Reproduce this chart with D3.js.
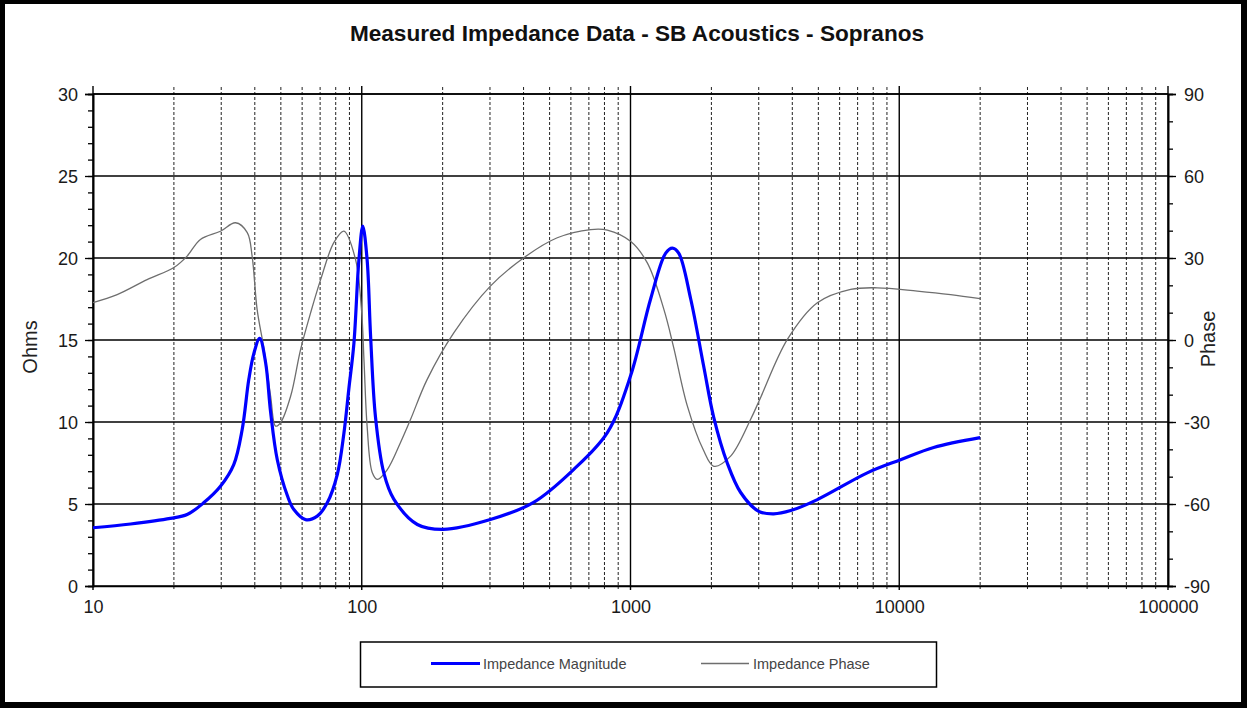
<!DOCTYPE html>
<html><head><meta charset="utf-8">
<script src="https://cdn.jsdelivr.net/npm/d3@7"></script>
<style>
body{margin:0;background:#fff}
svg{display:block}
text{font-family:"Liberation Sans",Arial,Helvetica,sans-serif}
</style>
</head><body>
<svg id="c" width="1247" height="708"></svg>
<script>
const chartTitle = "Measured Impedance Data - SB Acoustics - Sopranos";
const seriesNames = ["Impedance Magnitude", "Impedance Phase"];
const leftTitle = "Ohms";
const rightTitle = "Phase";

const magFreq = [10, 13.8, 19.4, 22.4, 25.8, 29.8, 33.4, 35.9, 38.0, 39.7, 41.7, 43.9, 45.8, 48.5, 52.9, 55.9, 61.8, 68.3, 74.4, 81.1, 85.8, 89.5, 93.5, 97.6, 100.9, 104.7, 107.9, 112.5, 120.8, 131.6, 161, 201, 301, 436, 614, 820, 1000, 1188, 1352, 1432, 1511, 1675, 1872, 2039, 2291, 2570, 3000, 3412, 3947, 4958, 7604, 10116, 13430, 20000];
const magOhms = [3.55, 3.78, 4.12, 4.36, 5.07, 6.08, 7.4, 9.54, 12.6, 14.2, 15.1, 13.6, 10.6, 7.7, 5.5, 4.66, 4.05, 4.26, 5.07, 6.8, 9.3, 12.0, 14.8, 19.9, 21.95, 19.9, 15.2, 10.3, 6.9, 5.3, 3.75, 3.45, 4.05, 5.1, 7.1, 9.35, 12.8, 17.5, 20.3, 20.6, 20.3, 17.5, 13.4, 10.3, 7.5, 5.7, 4.55, 4.4, 4.6, 5.27, 6.9, 7.7, 8.45, 9.05];

const phaseFreq = [10, 12.3, 15.9, 20.0, 22.4, 25.1, 29.8, 33.9, 37.5, 39.1, 40.8, 43.3, 45.8, 47.8, 49.9, 54.4, 59.2, 64.5, 70.3, 78.8, 85.8, 94.8, 99.8, 102, 104.7, 109.4, 114.2, 124.5, 139.4, 152, 175, 220, 301, 401, 534, 711, 820, 1000, 1155, 1331, 1445, 1626, 1862, 2043, 2358, 2800, 3050, 3835, 4958, 6596, 8285, 11670, 15530, 20000];
const phaseDeg = [13.7, 16.6, 22.1, 26.5, 30.7, 36.8, 39.8, 42.9, 39.3, 30.6, 11.2, -3.5, -20.5, -31.5, -30.2, -20.5, -3.5, 9.9, 22.1, 35.7, 39.8, 29.5, 11, -8, -31.5, -48.5, -51, -47.4, -37.5, -29, -14.5, 2.6, 19.7, 30.1, 37.4, 40.4, 40.2, 36.1, 28.2, 11.2, -2.4, -24, -40, -46.2, -42.5, -29, -21, 0.2, 13.6, 18.5, 19.1, 17.9, 16.6, 15.1];

const ohmTicks = [0, 5, 10, 15, 20, 25, 30];
const phaseTicks = [-90, -60, -30, 0, 30, 60, 90];
const freqTicks = [10, 100, 1000, 10000, 100000];

const svg = d3.select("#c");
const W = 1247, H = 708;
const L = 93, R = 1168, T = 94, B = 586;

const x = d3.scaleLog().domain([10, 100000]).range([L, R]);
const y = d3.scaleLinear().domain([0, 30]).range([B, T]);
const yP = d3.scaleLinear().domain([-90, 90]).range([B, T]);
const fmt = d => String(d);

svg.append("rect").attr("x",0).attr("y",0).attr("width",W).attr("height",H).attr("fill","#fff");

const minorFreq = [];
[10,100,1000,10000].forEach(d => { for (let k = 2; k <= 9; k++) minorFreq.push(d*k); });

const g = svg.append("g");
g.selectAll(".vminor").data(minorFreq).enter().append("line")
  .attr("x1", d => x(d)).attr("x2", d => x(d))
  .attr("y1", T - 7).attr("y2", B + 3)
  .attr("stroke", "#222").attr("stroke-width", 1).attr("stroke-dasharray", "3,2");
g.selectAll(".vmajor").data(freqTicks).enter().append("line")
  .attr("x1", d => x(d)).attr("x2", d => x(d))
  .attr("y1", T - 8).attr("y2", B + 4)
  .attr("stroke", "#000").attr("stroke-width", 1.4);
g.selectAll(".hgrid").data(ohmTicks).enter().append("line")
  .attr("x1", L).attr("x2", R)
  .attr("y1", d => y(d)).attr("y2", d => y(d))
  .attr("stroke", "#000").attr("stroke-width", 1.4);

const leftMajor = d3.axisLeft(y).tickValues(ohmTicks).tickSize(8).tickPadding(7).tickFormat(fmt);
const leftMinor = d3.axisLeft(y).tickValues(d3.range(0, 31, 1)).tickSize(5).tickFormat("");
const gl2 = svg.append("g").attr("transform", `translate(${L},0)`).call(leftMinor);
const gl = svg.append("g").attr("transform", `translate(${L},0)`).call(leftMajor);
[gl, gl2].forEach(a => { a.select(".domain").attr("stroke","#000").attr("stroke-width",1.6); a.selectAll("line").attr("stroke","#000").attr("stroke-width",1.3); });
gl.selectAll("text").attr("font-size", 18).attr("fill", "#1a1a1a").attr("dy","0.35em");

const rightMajor = d3.axisRight(yP).tickValues(phaseTicks).tickSize(8).tickPadding(8).tickFormat(fmt);
const rightMinor = d3.axisRight(yP).tickValues(d3.range(-90, 91, 10)).tickSize(5).tickFormat("");
const gr2 = svg.append("g").attr("transform", `translate(${R},0)`).call(rightMinor);
const gr = svg.append("g").attr("transform", `translate(${R},0)`).call(rightMajor);
[gr, gr2].forEach(a => { a.select(".domain").attr("stroke","#000").attr("stroke-width",1.6); a.selectAll("line").attr("stroke","#000").attr("stroke-width",1.3); });
gr.selectAll("text").attr("font-size", 18).attr("fill", "#1a1a1a").attr("dy","0.35em");

const bottom = d3.axisBottom(x).tickValues(freqTicks).tickSize(0).tickPadding(14).tickFormat(fmt);
const gb = svg.append("g").attr("transform", `translate(0,${B})`).call(bottom);
gb.select(".domain").attr("stroke","#000").attr("stroke-width",1.6);
gb.selectAll("text").attr("font-size", 18).attr("fill", "#1a1a1a");

svg.append("line").attr("x1", L).attr("x2", R).attr("y1", T).attr("y2", T).attr("stroke","#000").attr("stroke-width",1.4);

const phaseLine = d3.line().x((d,i) => x(phaseFreq[i])).y(d => yP(d)).curve(d3.curveCatmullRom.alpha(0.5));
svg.append("path").attr("d", phaseLine(phaseDeg))
  .attr("fill","none").attr("stroke","#6e6e6e").attr("stroke-width",1.3);

const magLine = d3.line().x((d,i) => x(magFreq[i])).y(d => y(d)).curve(d3.curveCatmullRom.alpha(0.5));
svg.append("path").attr("d", magLine(magOhms))
  .attr("fill","none").attr("stroke","#0000ff").attr("stroke-width",3.2).attr("stroke-linejoin","round");

svg.append("text").attr("x", 637).attr("y", 41).attr("text-anchor","middle")
  .attr("font-size", 22.6).attr("font-weight","bold").attr("fill","#111").text(chartTitle);
svg.append("text").attr("transform","translate(37,347) rotate(-90)").attr("text-anchor","middle")
  .attr("font-size", 20).attr("fill","#222").text(leftTitle);
svg.append("text").attr("transform","translate(1215,339) rotate(-90)").attr("text-anchor","middle")
  .attr("font-size", 20).attr("fill","#222").text(rightTitle);

const lg = svg.append("g");
lg.append("rect").attr("x",360.5).attr("y",642).attr("width",576).attr("height",45)
  .attr("fill","#fff").attr("stroke","#000").attr("stroke-width",1.5);
lg.append("line").attr("x1",431).attr("x2",480).attr("y1",663.5).attr("y2",663.5).attr("stroke","#0000ff").attr("stroke-width",3.2);
lg.append("text").attr("x",483).attr("y",669).attr("font-size",14.5).attr("fill","#444").text(seriesNames[0]);
lg.append("line").attr("x1",701).attr("x2",749).attr("y1",663.5).attr("y2",663.5).attr("stroke","#6e6e6e").attr("stroke-width",1.3);
lg.append("text").attr("x",753).attr("y",669).attr("font-size",14.5).attr("fill","#444").text(seriesNames[1]);

svg.append("rect").attr("x",0).attr("y",0).attr("width",W).attr("height",4).attr("fill","#000");
svg.append("rect").attr("x",0).attr("y",H-6).attr("width",W).attr("height",6).attr("fill","#000");
svg.append("rect").attr("x",0).attr("y",0).attr("width",5).attr("height",H).attr("fill","#000");
svg.append("rect").attr("x",W-6).attr("y",0).attr("width",6).attr("height",H).attr("fill","#000");
</script>
</body></html>
